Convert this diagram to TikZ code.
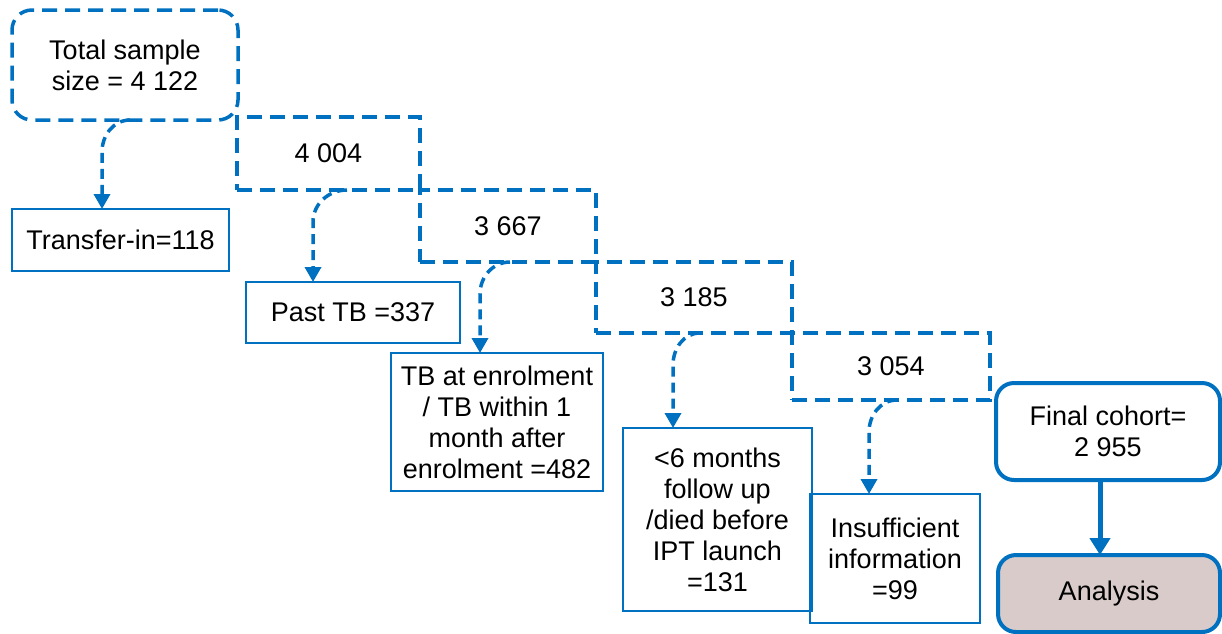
\documentclass[tikz,border=0pt]{standalone}
\usepackage{fontspec}
\setmainfont{Liberation Sans}
\usetikzlibrary{arrows.meta,calc}
\definecolor{blu}{HTML}{0070C0}
\definecolor{anl}{HTML}{D9CBCA}
\begin{document}
\begin{tikzpicture}[x=1pt,y=-1pt,
 every node/.style={font=\fontsize{27}{31}\selectfont, align=center, inner sep=0pt, outer sep=0pt},
 dbox/.style={draw=blu, line width=3.5pt, dash pattern=on 15pt off 8pt},
 sbox/.style={draw=blu, line width=2.5pt},
 rbox/.style={draw=blu, line width=4pt, rounded corners=18pt},
 darr/.style={draw=blu, line width=3.5pt, dash pattern=on 10pt off 6pt, -{Triangle[width=16pt,length=15pt]}},
 barr/.style={draw=blu, line width=5pt, -{Triangle[width=20pt,length=17pt]}},
]
\useasboundingbox (0,0) rectangle (1222,633);
% dashed count boxes
\node[dbox, rounded corners=20pt, minimum width=226pt, minimum height=110pt] (total) at (125,65) {Total sample\\size = 4 122};
\node[dbox, minimum width=183pt, minimum height=73pt] (b1) at (328.5,153.5) {4 004};
\node[dbox, minimum width=176pt, minimum height=72pt] (b2) at (508,226) {3 667};
\node[dbox, minimum width=196pt, minimum height=71pt] (b3) at (694,297.5) {3 185};
\node[dbox, minimum width=198pt, minimum height=67pt] (b4) at (891,366.5) {3 054};
% exclusion boxes
\node[sbox, minimum width=217pt, minimum height=62pt] (trans) at (120.5,240) {Transfer-in=118};
\node[sbox, minimum width=214pt, minimum height=61pt] (past) at (353,312.5) {Past TB =337};
\node[sbox, minimum width=212pt, minimum height=138pt] (enrol) at (497,422) {TB at enrolment\\/ TB within 1\\month after\\enrolment =482};
\node[sbox, minimum width=189pt, minimum height=183pt] (six) at (717.5,519.5) {<6 months\\follow up\\/died before\\IPT launch\\=131};
\node[sbox, minimum width=170pt, minimum height=129pt] (insuf) at (895,558.5) {Insufficient\\information\\=99};
% final
\node[rbox, minimum width=224pt, minimum height=97pt] (final) at (1108,431.5) {Final cohort=\\2 955};
\node[rbox, fill=anl, minimum width=222pt, minimum height=77pt] (anal) at (1109,593.5) {Analysis};
% arrows
\draw[darr] ([xshift=118pt]total.south west) to[out=180,in=90] ([xshift=90pt,yshift=-32pt]total.south west) -- ([xshift=90pt]trans.north west);
\draw[darr] ([xshift=110pt]b1.south west) to[out=180,in=90] ([xshift=76pt,yshift=-32pt]b1.south west) -- ([xshift=67pt]past.north west);
\draw[darr] ([xshift=90pt]b2.south west) to[out=180,in=90] ([xshift=60pt,yshift=-32pt]b2.south west) -- ([xshift=89pt]enrol.north west);
\draw[darr] ([xshift=104pt]b3.south west) to[out=180,in=90] ([xshift=77pt,yshift=-32pt]b3.south west) -- ([xshift=50pt]six.north west);
\draw[darr] ([xshift=105pt]b4.south west) to[out=180,in=90] ([xshift=77pt,yshift=-32pt]b4.south west) -- ([xshift=59pt]insuf.north west);
\draw[barr] ([xshift=-8pt]final.south) -- ([xshift=-9pt]anal.north);
\end{tikzpicture}
\end{document}
